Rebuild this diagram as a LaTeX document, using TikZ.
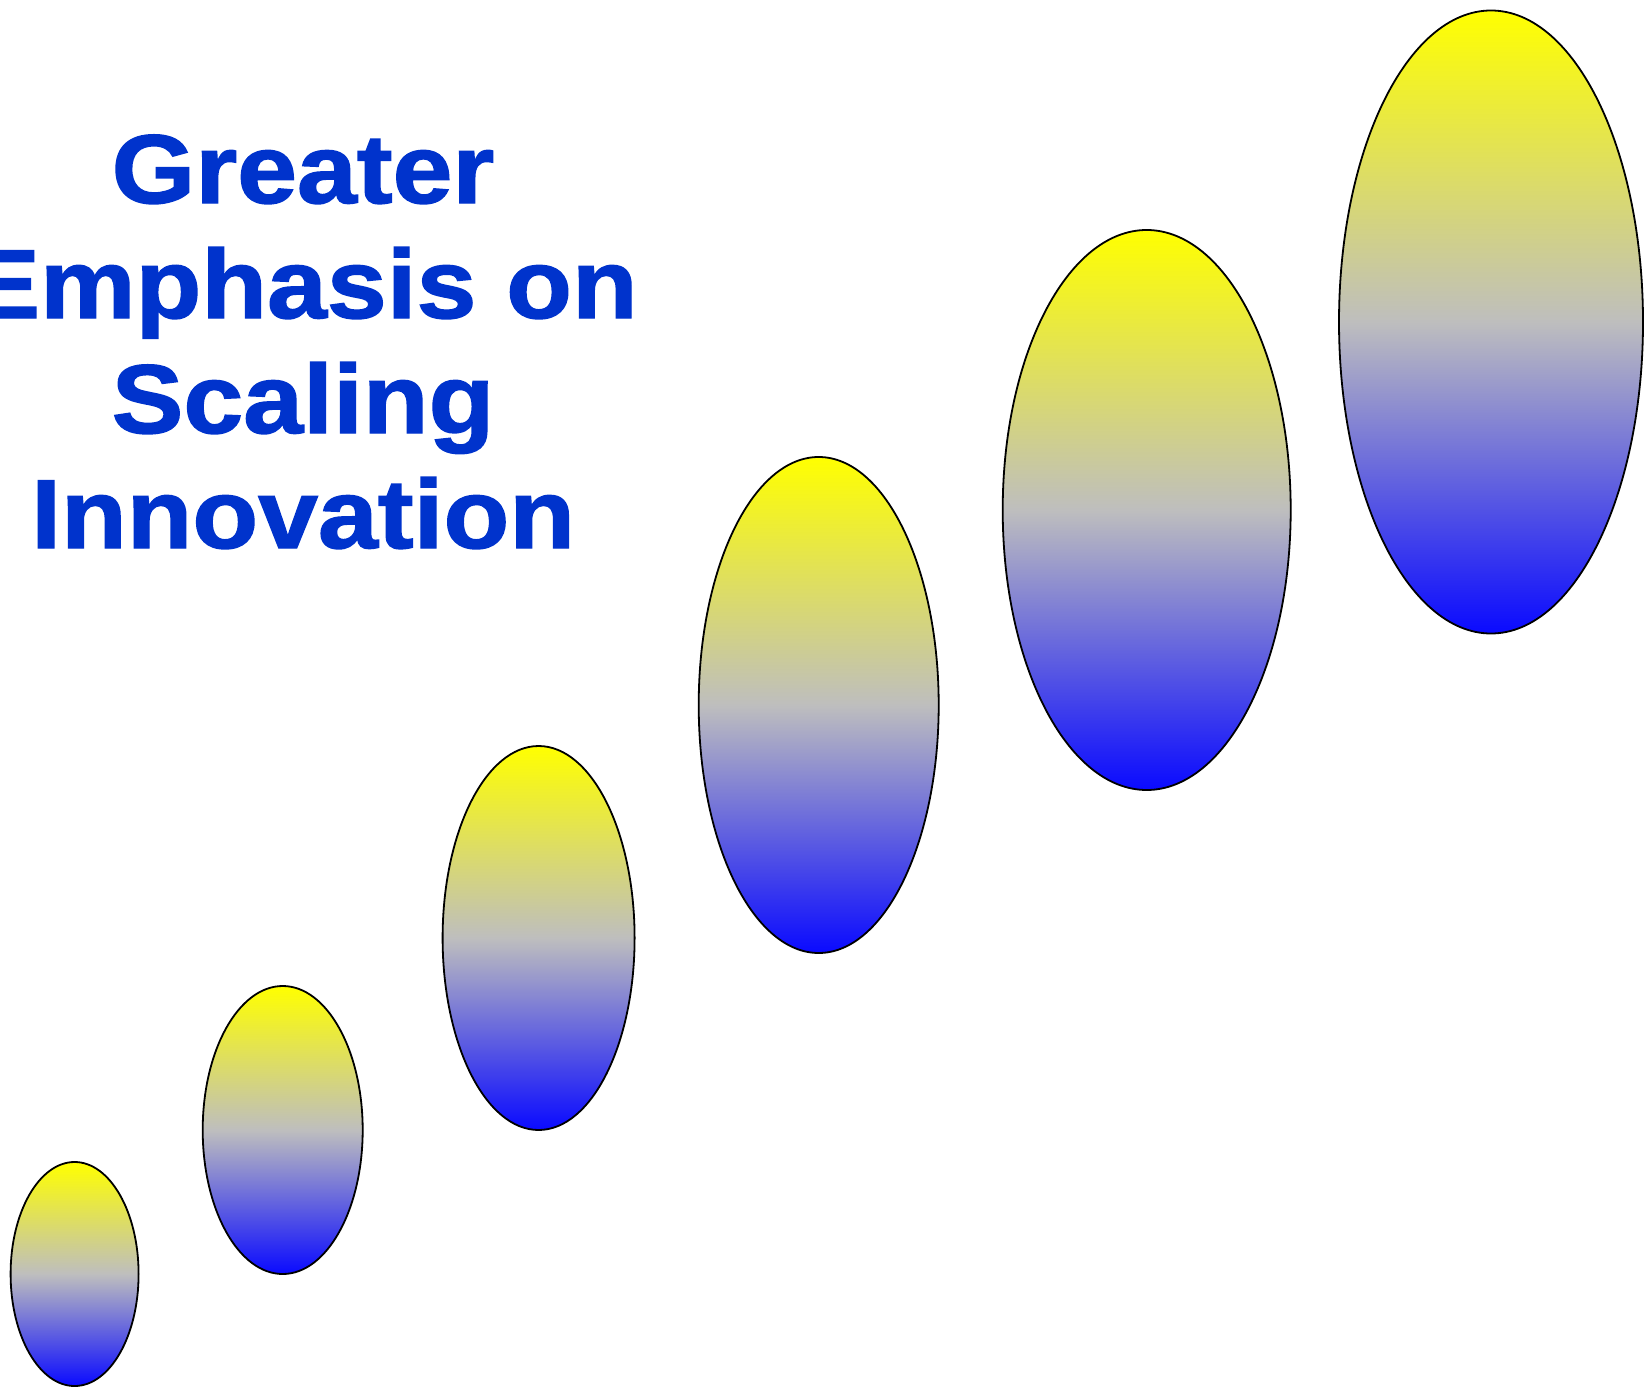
\documentclass[tikz,border=0pt]{standalone}
\usepackage{fontspec}
\setmainfont{Liberation Sans}
\newfontfamily\judulfont[FakeStretch=1.1,FakeBold=1.5]{Liberation Sans Bold}
\usetikzlibrary{shapes.geometric}
\definecolor{birujudul}{RGB}{0,51,204}
\definecolor{abutengah}{RGB}{190,190,190}
\definecolor{birubawah}{RGB}{10,10,255}

\begin{document}
\begin{tikzpicture}[x=1pt, y=-1pt,
        oval/.style={ellipse, draw=black, line width=1.8pt, inner sep=0pt,
                     top color=yellow, bottom color=birubawah, middle color=abutengah}
    ]
        \useasboundingbox (0,0) rectangle (1648,1388);
        \node[birujudul, align=center, anchor=base,
              font=\judulfont\fontsize{97.8}{115}\selectfont] (judul) at (303,548)
            {Greater\\Emphasis on\\Scaling\\Innovation};
        \node[oval, minimum width=128, minimum height=224] (e1) at (74.6,1274) {};
        \node[oval, minimum width=160, minimum height=288] (e2) at (282.7,1130) {};
        \node[oval, minimum width=192, minimum height=384] (e3) at (538.6,938) {};
        \node[oval, minimum width=240, minimum height=496] (e4) at (818.7,705) {};
        \node[oval, minimum width=288, minimum height=560] (e5) at (1146.7,510) {};
        \node[oval, minimum width=304, minimum height=623] (e6) at (1491,322) {};
    \end{tikzpicture}
\end{document}
